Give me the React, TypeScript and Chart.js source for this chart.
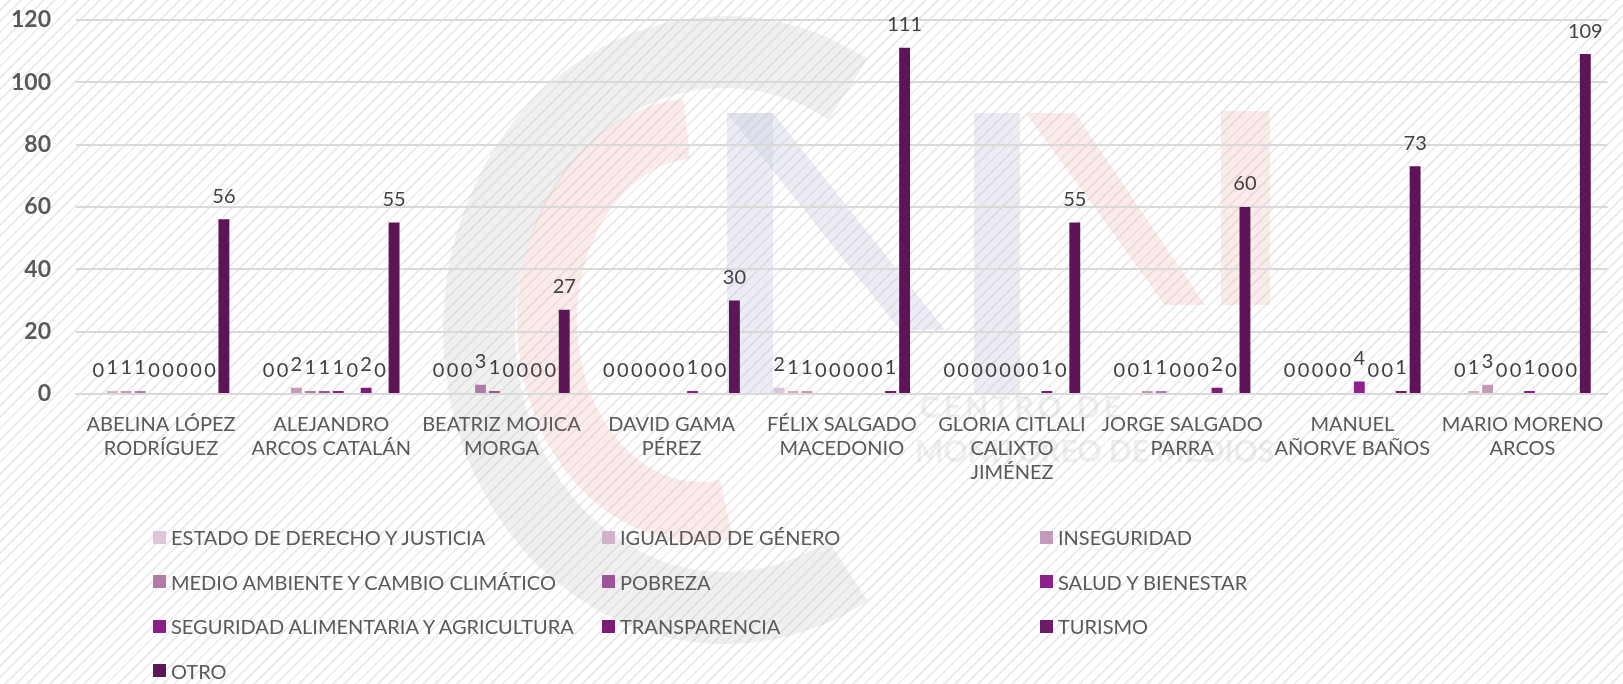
import React, { useEffect, useRef } from "react";
import { Chart, registerables } from "chart.js";

Chart.register(...registerables);

const categories: string[][] = [
  ["ABELINA LÓPEZ", "RODRÍGUEZ"],
  ["ALEJANDRO", "ARCOS CATALÁN"],
  ["BEATRIZ MOJICA", "MORGA"],
  ["DAVID GAMA", "PÉREZ"],
  ["FÉLIX SALGADO", "MACEDONIO"],
  ["GLORIA CITLALI", "CALIXTO", "JIMÉNEZ"],
  ["JORGE SALGADO", "PARRA"],
  ["MANUEL", "AÑORVE BAÑOS"],
  ["MARIO MORENO", "ARCOS"],
];

const seriesNames = [
  "ESTADO DE DERECHO Y JUSTICIA",
  "IGUALDAD DE GÉNERO",
  "INSEGURIDAD",
  "MEDIO AMBIENTE Y CAMBIO CLIMÁTICO",
  "POBREZA",
  "SALUD Y BIENESTAR",
  "SEGURIDAD ALIMENTARIA Y AGRICULTURA",
  "TRANSPARENCIA",
  "TURISMO",
  "OTRO",
];

const seriesColors = [
  "#dcc6d9",
  "#d2b2cb",
  "#c39aba",
  "#b17ba7",
  "#9d5497",
  "#8e2189",
  "#8a1f86",
  "#7b1d74",
  "#6c1b67",
  "#5e1558",
];

const estado = [0, 0, 0, 0, 2, 0, 0, 0, 0];
const igualdad = [1, 0, 0, 0, 1, 0, 0, 0, 1];
const inseguridad = [1, 2, 0, 0, 1, 0, 1, 0, 3];
const medioAmbiente = [1, 1, 3, 0, 0, 0, 1, 0, 0];
const pobreza = [0, 1, 1, 0, 0, 0, 0, 0, 0];
const salud = [0, 1, 0, 0, 0, 0, 0, 4, 1];
const seguridadAlim = [0, 0, 0, 1, 0, 0, 0, 0, 0];
const transparencia = [0, 2, 0, 0, 0, 1, 2, 0, 0];
const turismo = [0, 0, 0, 0, 1, 0, 0, 1, 0];
const otro = [56, 55, 27, 30, 111, 55, 60, 73, 109];

const seriesValues = [
  estado,
  igualdad,
  inseguridad,
  medioAmbiente,
  pobreza,
  salud,
  seguridadAlim,
  transparencia,
  turismo,
  otro,
];

const yTicks = [0, 20, 40, 60, 80, 100, 120];

const FONT = "Lato, 'Open Sans', sans-serif";

const valueLabels = {
  id: "valueLabels",
  afterDatasetsDraw(chart: any) {
    const ctx = chart.ctx;
    ctx.save();
    ctx.font = `20px ${FONT}`;
    ctx.fillStyle = "#404040";
    ctx.textAlign = "center";
    ctx.textBaseline = "bottom";
    chart.data.datasets.forEach((ds: any, i: number) => {
      const meta = chart.getDatasetMeta(i);
      meta.data.forEach((bar: any, j: number) => {
        ctx.fillText(String(ds.data[j]), bar.x, bar.y - 13);
      });
    });
    ctx.restore();
  },
};

function arcPath(cx: number, cy: number, rx: number, ry: number, a0: number, a1: number) {
  const r = Math.PI / 180;
  const x0 = cx + rx * Math.cos(a0 * r);
  const y0 = cy + ry * Math.sin(a0 * r);
  const x1 = cx + rx * Math.cos(a1 * r);
  const y1 = cy + ry * Math.sin(a1 * r);
  return `M ${x0} ${y0} A ${rx} ${ry} 0 1 0 ${x1} ${y1}`;
}

function Watermark() {
  const gray = "rgba(200,200,200,0.28)";
  const pink = "rgba(235,165,165,0.22)";
  const blue = "rgba(185,190,215,0.28)";
  return (
    <svg
      width={1623}
      height={684}
      style={{ position: "absolute", left: 0, top: 0 }}
    >
      <path
        d={arcPath(725, 330, 246, 278, -60, 60)}
        fill="none"
        stroke={gray}
        strokeWidth={72}
      />
      <path
        d={arcPath(700, 320, 153, 192, -95, 80)}
        fill="none"
        stroke={pink}
        strokeWidth={60}
      />
      <polygon points="727,113 773,113 773,393 727,393" fill={blue} />
      <polygon points="727,113 773,113 945,330 900,330" fill={blue} />
      <polygon points="974,113 1020,113 1020,393 974,393" fill={blue} />
      <polygon points="1026,113 1075,113 1205,305 1165,305" fill={pink} />
      <polygon points="1221,111 1270,111 1270,305 1221,305" fill={pink} />
      <text
        x={920}
        y={418}
        fill="rgba(200,200,200,0.3)"
        fontFamily={FONT}
        fontWeight="bold"
        fontSize={30}
        letterSpacing={4}
      >
        CENTRO DE
      </text>
      <text
        x={915}
        y={462}
        fill="rgba(200,200,200,0.3)"
        fontFamily={FONT}
        fontWeight="bold"
        fontSize={30}
      >
        MONITOREO DE MEDIOS
      </text>
    </svg>
  );
}

export default function App() {
  const ref = useRef<HTMLCanvasElement | null>(null);

  useEffect(() => {
    if (!ref.current) return;
    const chart = new Chart(ref.current, {
      type: "bar",
      data: {
        labels: categories,
        datasets: seriesNames.map((name, i) => ({
          label: name,
          data: seriesValues[i],
          backgroundColor: seriesColors[i],
          categoryPercentage: 0.82,
          barPercentage: 0.78,
        })),
      },
      options: {
        responsive: false,
        animation: false,
        layout: { padding: { top: 0, right: 15, left: 0, bottom: 0 } },
        plugins: {
          legend: { display: false },
          tooltip: { enabled: false },
        },
        scales: {
          x: {
            grid: { display: false, drawTicks: false },
            border: { display: true, color: "#d9d9d9", width: 2 },
            ticks: {
              color: "#595959",
              font: { family: FONT, size: 20 },
              padding: 19,
              maxRotation: 0,
              autoSkip: false,
            },
            afterFit(scale: any) {
              scale.height = 290;
            },
          },
          y: {
            min: 0,
            max: 120,
            afterBuildTicks(scale: any) {
              scale.ticks = yTicks.map((v) => ({ value: v }));
            },
            grid: { color: "#d9d9d9", lineWidth: 2, drawTicks: false },
            border: { display: false },
            ticks: {
              color: "#595959",
              font: { family: FONT, size: 23, weight: "bold" },
              padding: 25,
            },
            afterFit(scale: any) {
              scale.width = 76;
            },
          },
        },
      },
      plugins: [valueLabels],
    });
    return () => chart.destroy();
  }, []);

  const colX = [153, 602, 1040];

  return (
    <div
      style={{
        position: "absolute",
        left: 0,
        top: 0,
        width: 1623,
        height: 684,
        overflow: "hidden",
        background:
          "repeating-linear-gradient(135deg, #ffffff 0px, #ffffff 6px, #ececec 6px, #ececec 8px)",
        fontFamily: FONT,
      }}
    >
      <Watermark />
      <canvas
        ref={ref}
        width={1623}
        height={703}
        style={{ position: "absolute", left: 0, top: -19 }}
      />
      {seriesNames.map((name, i) => (
        <div
          key={name}
          style={{
            position: "absolute",
            left: colX[i % 3],
            top: 537 + Math.floor(i / 3) * 44.5 - 13,
            height: 26,
            display: "flex",
            alignItems: "center",
            color: "#595959",
            fontSize: 20,
            whiteSpace: "nowrap",
          }}
        >
          <span
            style={{
              display: "inline-block",
              width: 13,
              height: 13,
              background: seriesColors[i],
              marginRight: 5,
            }}
          />
          {name}
        </div>
      ))}
    </div>
  );
}
